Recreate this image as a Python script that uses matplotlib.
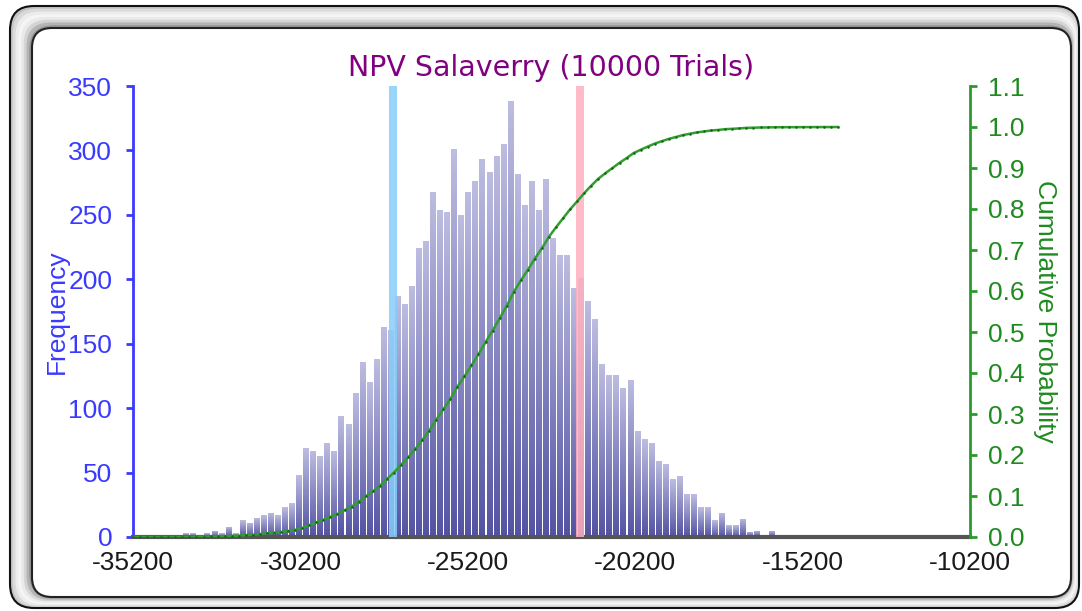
import numpy as np
import matplotlib
matplotlib.use("Agg")
import matplotlib.pyplot as plt
from matplotlib.colors import LinearSegmentedColormap
from matplotlib.patches import FancyBboxPatch

plt.rcParams['font.family'] = ['Liberation Sans', 'DejaVu Sans']

# NPV histogram, 10000 trials in 100 equal bins between min and max trial
npv_min = -35200
npv_max = -14140
counts = [
    1, 0, 0, 1, 0, 1, 0, 3, 3, 1,
    3, 5, 3, 8, 3, 13, 11, 15, 17, 19,
    17, 23, 26, 48, 69, 67, 63, 73, 67, 94,
    88, 112, 136, 120, 138, 163, 161, 187, 181, 195,
    224, 230, 268, 254, 252, 301, 250, 268, 276, 293,
    283, 296, 305, 338, 282, 258, 276, 254, 278, 232,
    219, 219, 193, 201, 183, 169, 134, 126, 126, 116,
    122, 82, 76, 73, 59, 57, 45, 47, 33, 33,
    23, 23, 13, 19, 9, 9, 14, 4, 5, 1,
    5, 1, 1, 0, 1, 1, 0, 1, 0, 1,
]
# marker lines (mean -/+ one std dev)
marker_low = -27420
marker_high = -21850

npv_ticks = [-35200, -30200, -25200, -20200, -15200, -10200]
freq_ticks = [0, 50, 100, 150, 200, 250, 300, 350]
prob_ticks = [0.0, 0.1, 0.2, 0.3, 0.4, 0.5, 0.6, 0.7, 0.8, 0.9, 1.0, 1.1]

W, H = 1082, 611
fig = plt.figure(figsize=(W / 100, H / 100), dpi=100)

# bevelled rounded frame drawn in pixel coords
bg = fig.add_axes([0, 0, 1, 1])
bg.set_xlim(0, W)
bg.set_ylim(H, 0)
bg.axis('off')
outer = np.array([10, 6, 1079, 608], dtype=float)
inner = np.array([32, 28, 1071, 597], dtype=float)
shades = ['#c4c4c4', '#dadada', '#ececec', '#f5f5f5', '#eaeaea', '#d4d4d4', '#b4b4b4', '#949494']
for k, c in enumerate(shades):
    t = k / len(shades)
    x0, y0, x1, y1 = outer + t * (inner - outer)
    bg.add_patch(FancyBboxPatch((x0, y0), x1 - x0, y1 - y0,
                                boxstyle="round,pad=0,rounding_size=24",
                                fc=c, ec='#111111' if k == 0 else 'none', lw=1.5))
x0, y0, x1, y1 = inner
bg.add_patch(FancyBboxPatch((x0, y0), x1 - x0, y1 - y0,
                            boxstyle="round,pad=0,rounding_size=20",
                            fc='white', ec='#222222', lw=1.5))

ax = fig.add_axes([133 / W, 1 - 537 / H, (970 - 133) / W, (537 - 86) / H])
ax.patch.set_alpha(0)

edges = np.linspace(npv_min, npv_max, len(counts) + 1)
bw = edges[1] - edges[0]
centers = (edges[:-1] + edges[1:]) / 2
bars = ax.bar(centers, counts, width=bw * 0.72, color='#8888c4', edgecolor='none', zorder=2)

# vertical gradient inside each bar
cmap = LinearSegmentedColormap.from_list('barfill', ['#5353a3', '#bdbde1'])
grad = np.linspace(0, 1, 128).reshape(-1, 1)
for b in bars:
    h = b.get_height()
    if h <= 0:
        continue
    im = ax.imshow(grad, cmap=cmap, origin='lower', aspect='auto', zorder=2.1,
                   extent=(b.get_x(), b.get_x() + b.get_width(), 0, h))
    im.set_clip_path(b)

ax.axvline(marker_low, color='#87cefa', lw=5.8, alpha=0.85, zorder=3)
ax.axvline(marker_high, color='#ffb0bf', lw=5.8, alpha=0.85, zorder=3)

ax.set_xlim(npv_ticks[0], npv_ticks[-1])
ax.set_ylim(0, 350)
ax.set_xticks(npv_ticks)
ax.set_xticklabels([str(v) for v in npv_ticks])
ax.set_yticks(freq_ticks)

blue = '#3a3aff'
green = '#2a9a2a'
for s in ['top', 'right']:
    ax.spines[s].set_visible(False)
ax.spines['left'].set_color(blue)
ax.spines['left'].set_linewidth(2)
ax.spines['bottom'].set_color('#555555')
ax.spines['bottom'].set_linewidth(3)
ax.tick_params(axis='y', direction='out', length=5, width=2, color=blue,
               labelcolor=blue, labelsize=19, pad=10)
ax.tick_params(axis='x', length=0, labelsize=19, labelcolor='#1a1a1a', pad=10)
ax.set_ylabel('Frequency', color=blue, fontsize=19, va='center', ha='center')
ax.yaxis.set_label_coords(-0.091, 0.5)

# cumulative probability on the right axis
ax2 = ax.twinx()
cum = np.concatenate([[0], np.cumsum(counts)]) / np.sum(counts)
ax2.plot(edges, cum, color='#2f9f2f', lw=1.8, marker='o', ms=1.8,
         mfc='#1c5f1c', mec='none', zorder=4)
ax2.set_ylim(0, 1.1)
ax2.set_yticks(prob_ticks)
ax2.set_yticklabels([f'{v:.1f}' for v in prob_ticks])
for s in ['top', 'left', 'bottom']:
    ax2.spines[s].set_visible(False)
ax2.spines['right'].set_color(green)
ax2.spines['right'].set_linewidth(2)
ax2.tick_params(axis='y', direction='out', length=5, width=2, color=green,
                labelcolor='#1f8a1f', labelsize=19, pad=8)
ax2.set_ylabel('Cumulative Probability', color='#1f8a1f', fontsize=19,
               rotation=-90, va='center', ha='center')
ax2.yaxis.set_label_coords((1045 - 133) / 837, 0.5)

ax.set_title('NPV Salaverry (10000 Trials)', color='#800080', fontsize=20.5,
             family='DejaVu Sans', y=(537 - 68) / 451, va='center', pad=0)

fig.savefig('out.png', dpi=100)
